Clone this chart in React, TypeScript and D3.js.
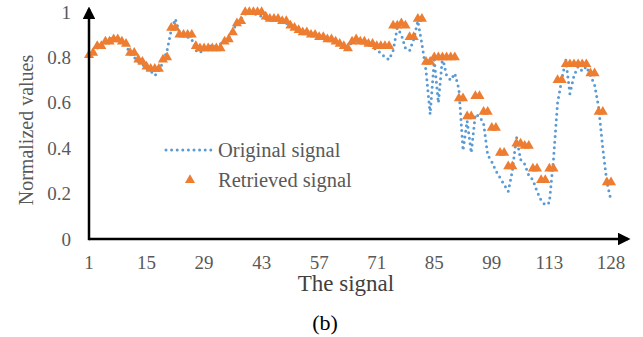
import React from 'react';
import * as d3 from 'd3';

// signal index 1..128
const original = [
  0.81, 0.82, 0.84, 0.86, 0.87, 0.88, 0.89, 0.88, 0.87, 0.85,
  0.82, 0.80, 0.78, 0.77, 0.75, 0.74, 0.72, 0.74, 0.78, 0.83,
  0.92, 0.97, 0.91, 0.90, 0.89, 0.88, 0.83, 0.82, 0.84, 0.85,
  0.85, 0.85, 0.86, 0.88, 0.89, 0.92, 0.95, 0.97, 0.99, 1.00,
  0.99, 0.99, 0.98, 0.97, 0.97, 0.97, 0.96, 0.96, 0.95, 0.94,
  0.93, 0.92, 0.91, 0.91, 0.90, 0.90, 0.89, 0.89, 0.88, 0.88,
  0.87, 0.86, 0.85, 0.84, 0.87, 0.87, 0.87, 0.86, 0.86, 0.85,
  0.83, 0.82, 0.80, 0.79, 0.83, 0.93, 0.90, 0.84, 0.83, 0.88,
  0.96, 0.86, 0.74, 0.55, 0.79, 0.60, 0.80, 0.72, 0.70, 0.73,
  0.66, 0.39, 0.52, 0.38, 0.55, 0.54, 0.51, 0.37, 0.34, 0.30,
  0.27, 0.24, 0.21, 0.30, 0.45, 0.35, 0.33, 0.28, 0.26, 0.21,
  0.17, 0.15, 0.16, 0.35, 0.60, 0.70, 0.79, 0.64, 0.72, 0.76,
  0.74, 0.76, 0.72, 0.68, 0.58, 0.40, 0.25, 0.17,
];

const retrieved = [
  0.81, 0.82, 0.85, 0.85, 0.87, 0.87, 0.88, 0.88, 0.87, 0.86,
  0.82, 0.82, 0.79, 0.78, 0.76, 0.75, 0.75, 0.75, 0.79, 0.80,
  0.93, 0.93, 0.90, 0.90, 0.90, 0.90, 0.85, 0.84, 0.84, 0.84,
  0.84, 0.84, 0.84, 0.87, 0.88, 0.91, 0.95, 0.96, 1.00, 1.00,
  1.00, 1.00, 1.00, 0.98, 0.97, 0.97, 0.97, 0.96, 0.96, 0.94,
  0.93, 0.92, 0.91, 0.91, 0.90, 0.90, 0.89, 0.89, 0.88, 0.88,
  0.87, 0.86, 0.85, 0.84, 0.87, 0.88, 0.87, 0.87, 0.86, 0.86,
  0.85, 0.85, 0.85, 0.85, 0.94, 0.94, 0.95, 0.94, 0.89, 0.89,
  0.97, 0.97, 0.78, 0.78, 0.80, 0.80, 0.80, 0.80, 0.80, 0.80,
  0.62, 0.62, 0.54, 0.54, 0.63, 0.63, 0.56, 0.56, 0.49, 0.49,
  0.38, 0.38, 0.32, 0.32, 0.42, 0.42, 0.41, 0.41, 0.31, 0.31,
  0.26, 0.26, 0.31, 0.31, 0.70, 0.70, 0.77, 0.77, 0.77, 0.77,
  0.77, 0.77, 0.73, 0.73, 0.56, 0.56, 0.25, 0.25,
];

const xTicks = [1, 15, 29, 43, 57, 71, 85, 99, 113, 128];
const yTicks = [0, 0.2, 0.4, 0.6, 0.8, 1];

const blue = '#5B9BD5';
const orange = '#ED7D31';
const serif = '"Liberation Serif", "Times New Roman", serif';

export default function App() {
  const width = 643;
  const height = 337;

  const x = d3.scaleLinear().domain([1, 128]).range([89, 611]);
  const y = d3.scaleLinear().domain([0, 1]).range([239, 12]);

  const line = d3.line<number>()
    .x((_, i) => x(i + 1))
    .y(d => y(d));

  const tri = d3.symbol().type(d3.symbolTriangle).size(44)();

  const x0 = x(1);
  const y0 = y(0);

  return (
    <svg width={width} height={height} style={{ position: 'absolute', left: 0, top: 0, background: '#fff' }}
      fontFamily={serif}>
      <defs>
        <marker id="arrow" viewBox="0 0 10 10" refX="8" refY="5" markerWidth="5" markerHeight="5"
          markerUnits="strokeWidth" orient="auto">
          <path d="M0,0 L10,5 L0,10 z" fill="#000" />
        </marker>
      </defs>

      {/* y tick labels */}
      {yTicks.map(t => (
        <text key={t} x={71} y={y(t)} dy="0.35em" textAnchor="end" fontSize={19} fill="#595959">
          {d3.format('~g')(t)}
        </text>
      ))}

      {/* x tick labels */}
      {xTicks.map(t => (
        <text key={t} x={x(t)} y={262} dy="0.35em" textAnchor="middle" fontSize={19} fill="#595959">
          {t}
        </text>
      ))}

      {/* original signal, dotted */}
      <path d={line(original) ?? ''} fill="none" stroke={blue} strokeWidth={3}
        strokeDasharray="0 5.6" strokeLinecap="round" strokeLinejoin="round" />

      {/* retrieved signal, triangles */}
      {retrieved.map((v, i) => (
        <path key={i} d={tri ?? ''} transform={`translate(${x(i + 1)},${y(v)})`} fill={orange} />
      ))}

      {/* axes with arrows */}
      <line x1={x0} y1={y0} x2={628} y2={y0} stroke="#000" strokeWidth={2.5} markerEnd="url(#arrow)" />
      <line x1={x0} y1={y0 + 1.2} x2={x0} y2={9} stroke="#000" strokeWidth={2.5} markerEnd="url(#arrow)" />

      {/* legend */}
      <line x1={166} y1={150} x2={212} y2={150} stroke={blue} strokeWidth={3}
        strokeDasharray="0 5.6" strokeLinecap="round" />
      <text x={218} y={150} dy="0.35em" fontSize={20.5} fill="#595959">Original signal</text>
      <path d={tri ?? ''} transform="translate(190,180)" fill={orange} />
      <text x={218} y={180} dy="0.35em" fontSize={20.5} fill="#595959">Retrieved signal</text>

      {/* axis titles */}
      <text transform="translate(26,130) rotate(-90)" textAnchor="middle" dy="0.35em" fontSize={20} fill="#595959">
        Normalized values
      </text>
      <text x={346} y={283} dy="0.35em" textAnchor="middle" fontSize={23} fill="#404040">The signal</text>
      <text x={325} y={322} dy="0.35em" textAnchor="middle" fontSize={22} fill="#000">(b)</text>
    </svg>
  );
}
